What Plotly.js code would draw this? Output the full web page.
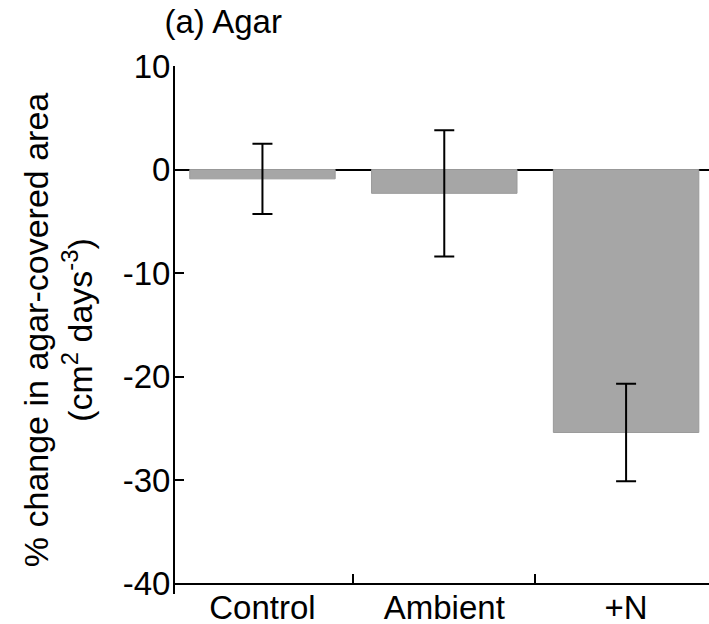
<!DOCTYPE html>
<html>
<head>
<meta charset="utf-8">
<script src="https://cdn.plot.ly/plotly-3.0.1.min.js"></script>
<style>html,body{margin:0;padding:0;background:#fff;}#chart{width:709px;height:624px;}</style>
</head>
<body>
<div id="chart"></div>
<script>
const categories = ["Control", "Ambient", "+N"];
const meanChange = [-0.9, -2.3, -25.4];
const errorSE = [3.4, 6.1, 4.7];
const yTickVals = [-40, -30, -20, -10, 0, 10];
const yTickText = ["-40", "-30", "-20", "-10", "0", "10"];

const FONT = "Liberation Sans, Arial, sans-serif";
const FS = 33;

const trace = {
  type: "bar",
  x: categories,
  y: meanChange,
  width: 0.8,
  marker: {color: "#a6a6a6", line: {color: "#9a9a9a", width: 1}},
  error_y: {type: "data", array: errorSE, visible: true, color: "#000", thickness: 2, width: 10},
  hoverinfo: "skip"
};

const layout = {
  width: 709, height: 624,
  margin: {l: 175, r: 0, t: 66, b: 30},
  paper_bgcolor: "#fff", plot_bgcolor: "#fff",
  showlegend: false,
  font: {family: FONT, color: "#000", size: FS},
  title: {
    text: "(a) Agar",
    font: {family: FONT, size: FS, color: "#000"},
    xref: "container", yref: "container",
    x: 0.232, xanchor: "left",
    y: 0.965, yanchor: "middle"
  },
  xaxis: {
    type: "category",
    range: [-0.481, 2.456],
    tickson: "boundaries",
    ticks: "inside", ticklen: 9, tickwidth: 2, tickcolor: "#000",
    showline: true, linecolor: "#000", linewidth: 2,
    showgrid: false, zeroline: false,
    anchor: "free", position: 1/51,
    ticklabelstandoff: -5,
    tickfont: {family: FONT, size: FS, color: "#000"}
  },
  yaxis: {
    range: [-41, 10],
    tickmode: "array", tickvals: yTickVals, ticktext: yTickText,
    ticks: "inside", ticklen: 9, tickwidth: 2, tickcolor: "#000",
    showline: true, linecolor: "#000", linewidth: 2,
    showgrid: false,
    zeroline: true, zerolinecolor: "#000", zerolinewidth: 2,
    ticklabelstandoff: -4,
    tickfont: {family: FONT, size: FS, color: "#000"},
    title: {
      text: "% change in agar-covered area<br>(cm<sup>2</sup> days<sup>-3</sup>)",
      font: {family: FONT, size: 34, color: "#000"},
      standoff: 20
    }
  }
};

Plotly.newPlot("chart", [trace], layout, {displayModeBar: false, staticPlot: true});
</script>
</body>
</html>
